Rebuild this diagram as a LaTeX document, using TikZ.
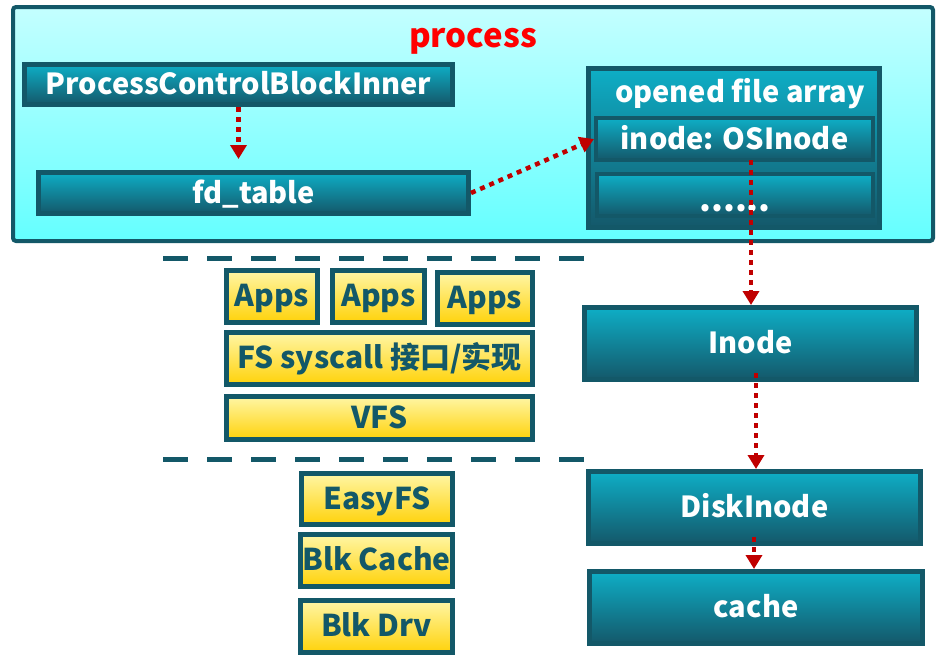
\documentclass[tikz,border=0pt]{standalone}
\usepackage{fontspec}
\setmainfont{Noto Sans CJK SC}
\usetikzlibrary{arrows.meta,calc}
\definecolor{dk}{RGB}{19,88,104}
\definecolor{tealtop}{RGB}{14,174,198}
\definecolor{tealbot}{RGB}{20,88,106}
\definecolor{ytop}{RGB}{255,246,165}
\definecolor{ybot}{RGB}{255,210,10}
\definecolor{ctop}{RGB}{196,255,255}
\definecolor{cbot}{RGB}{100,255,255}
\definecolor{arr}{RGB}{192,0,0}
\begin{document}
\begin{tikzpicture}[x=1pt,y=-1pt,
 tealbox/.style={draw=dk,line width=5pt,top color=tealtop,bottom color=tealbot,text=white,font=\bfseries\fontsize{29}{32}\selectfont,inner sep=0pt,text height=24pt,text depth=4pt},
 ybox/.style={draw=dk,line width=5pt,top color=ytop,bottom color=ybot,text=dk,font=\bfseries\fontsize{30}{33}\selectfont,inner sep=0pt,text height=24pt,text depth=4pt},
 redarrow/.style={draw=arr,line width=4.5pt,dash pattern=on 5pt off 5pt,-{Triangle[length=14pt,width=16pt,fill=arr]}},
 sepline/.style={draw=dk,line width=5pt,dash pattern=on 25pt off 19pt}
]
\useasboundingbox (0,0) rectangle (951,659);
% process container
\node[draw=dk,line width=4pt,rounded corners=3pt,top color=ctop,bottom color=cbot,minimum width=920pt,minimum height=234pt,inner sep=0pt] (proc) at (473,124) {};
\node[text=red,font=\bfseries\fontsize{33}{36}\selectfont] (ptitle) at (473,41) {process};
\node[tealbox,minimum width=428pt,minimum height=40pt] (pcb) at (238.5,84.5) {ProcessControlBlockInner};
\node[tealbox,minimum width=430pt,minimum height=41pt] (fd) at (253.5,193) {fd\_table};
\node[tealbox,minimum width=291pt,minimum height=159pt] (ofa) at (734,148) {};
\node[text=white,font=\bfseries\fontsize{29}{32}\selectfont] (ofat) at (740,94) {opened file array};
\node[tealbox,line width=4pt,minimum width=277pt,minimum height=42pt] (osi) at (734.5,139) {inode: OSInode};
\node[tealbox,line width=4pt,minimum width=276pt,minimum height=42pt] (dots) at (735,195) {\raisebox{-6pt}{\fontsize{34}{36}\selectfont......}};
% layers
\node[ybox,minimum width=91pt,minimum height=52pt] (a1) at (272,296.5) {Apps};
\node[ybox,minimum width=92pt,minimum height=52pt] (a2) at (378.5,296.5) {Apps};
\node[ybox,minimum width=95pt,minimum height=52pt] (a3) at (485,298.5) {Apps};
\node[ybox,minimum width=306pt,minimum height=52pt] (fs) at (379.5,358.5) {FS syscall 接口/实现};
\node[ybox,minimum width=306pt,minimum height=43pt] (vfs) at (379.5,418) {VFS};
\node[ybox,minimum width=151pt,minimum height=51pt] (efs) at (377,499) {EasyFS};
\node[ybox,minimum width=152pt,minimum height=52pt] (bc) at (376.5,560.5) {Blk Cache};
\node[ybox,minimum width=152pt,minimum height=52pt] (bd) at (376.5,626.5) {Blk Drv};
% separators
\coordinate (s1a) at (163,258); \coordinate (s1b) at (585,258);
\coordinate (s2a) at (163,459); \coordinate (s2b) at (585,459);
\draw[sepline] (s1a) -- (s1b);
\draw[sepline] (s2a) -- (s2b);
% right column
\node[tealbox,minimum width=332pt,minimum height=72pt] (ino) at (750.5,343.5) {Inode};
\node[tealbox,minimum width=332pt,minimum height=72pt] (dino) at (754.5,507.5) {DiskInode};
\node[tealbox,minimum width=333pt,minimum height=72pt] (cache) at (756,607.5) {cache};
% arrows
\draw[redarrow,shorten >=11pt] (pcb.south) -- (pcb.south |- fd.north);
\draw[redarrow] (fd.east) -- (osi.west);
\coordinate (o1) at ($(osi.south)+(16.5,-2)$);
\draw[redarrow] (o1) -- (o1 |- ino.north);
\coordinate (i1) at ($(ino.south)+(5.5,-9)$);
\draw[redarrow] (i1) -- (i1 |- dino.north);
\coordinate (d1) at ($(dino.south)+(-0.5,-9)$);
\draw[redarrow] (d1) -- (d1 |- cache.north);
\end{tikzpicture}
\end{document}
